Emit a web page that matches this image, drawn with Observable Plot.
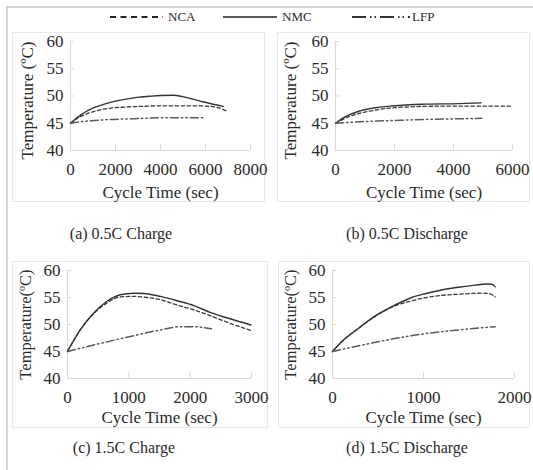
<!DOCTYPE html>
<html>
<head>
<meta charset="utf-8">
<script src="https://cdn.jsdelivr.net/npm/d3@7"></script>
<script src="https://cdn.jsdelivr.net/npm/@observablehq/plot@0.6"></script>
<style>
  html, body { margin: 0; padding: 0; background: #fff; }
  #page { position: relative; width: 533px; height: 470px; overflow: hidden; font-family: "Liberation Serif", "Times New Roman", serif; color: #2a2a2a; }
  .frameL { position: absolute; left: 6px; top: 6px; width: 2px; height: 470px; background: #d4d4d4; }
  .frameT { position: absolute; left: 6px; top: 6px; width: 533px; height: 1.5px; background: #d4d4d4; }
  .box { position: absolute; box-sizing: border-box; border: 1px solid #e8e8e8; }
  .box svg { display: block; }
  .cap { position: absolute; font-size: 16px; white-space: nowrap; transform: translate(-50%, -50%); }
  .leg { position: absolute; font-size: 13px; white-space: nowrap; transform: translateY(-50%); }
  #legendSvg { position: absolute; left: 0; top: 0; }
</style>
</head>
<body>
<div id="page">
  <div class="frameL"></div>
  <div class="frameT"></div>
  <svg id="legendSvg" width="533" height="30"></svg>
  <div id="legendText"></div>
  <div id="pa" class="box"></div>
  <div id="pb" class="box"></div>
  <div id="pc" class="box"></div>
  <div id="pd" class="box"></div>
  <div id="caps"></div>
</div>
<script>
// ---------- data (time in sec, temperature in ºC) ----------
const seriesNames = ["NCA", "NMC", "LFP"];
const yTicks = [40, 45, 50, 55, 60];

// (a) 0.5C Charge
const aTicks = [0, 2000, 4000, 6000, 8000];
const aNCA = [[0,45],[300,45.9],[593,46.5],[1000,47.1],[1481,47.6],[2000,47.85],[2519,48.0],[3200,48.1],[4000,48.2],[4800,48.2],[5481,48.2],[6222,48.1],[6600,47.8],[6900,47.3]];
const aNMC = [[0,45],[444,46.5],[1037,47.85],[1500,48.5],[2000,49.05],[2963,49.75],[3500,49.95],[4000,50.1],[4593,50.15],[5185,49.7],[5926,48.9],[6785,48.1]];
const aLFP = [[0,45],[500,45.3],[1037,45.5],[1800,45.7],[2519,45.8],[3200,45.9],[4000,46.0],[5000,46.0],[5926,46.0]];

// (b) 0.5C Discharge
const bTicks = [0, 2000, 4000, 6000];
const bNCA = [[0,45],[451,46.2],[800,46.8],[1128,47.2],[1500,47.55],[2000,47.85],[2500,48.0],[3046,48.1],[4174,48.15],[5000,48.15],[6000,48.15]];
const bNMC = [[0,45],[338,46.2],[790,47.2],[1354,47.85],[2000,48.2],[2500,48.4],[3046,48.5],[4174,48.6],[4930,48.75]];
const bLFP = [[0,45],[600,45.2],[1354,45.4],[2200,45.55],[3046,45.7],[4000,45.8],[4963,45.9]];

// (c) 1.5C Charge
const cTicks = [0, 1000, 2000, 3000];
const cNCA = [[0,45],[207,49.0],[425,52.0],[644,54.0],[862,55.1],[1080,55.2],[1298,55.0],[1516,54.6],[1789,53.6],[2062,52.7],[2335,51.6],[2608,50.4],[2990,48.9]];
const cNMC = [[0,45],[207,49.0],[425,52.1],[644,54.3],[862,55.5],[1080,55.8],[1244,55.75],[1516,55.2],[1789,54.4],[2062,53.5],[2335,52.2],[2608,51.2],[2990,49.9]];
const cLFP = [[0,45],[425,46.2],[971,47.65],[1516,49.0],[1844,49.6],[2062,49.6],[2200,49.45],[2346,49.2]];

// (d) 1.5C Discharge
const dTicks = [0, 1000, 2000];
const dNCA = [[0,45],[103,46.85],[286,49.3],[469,51.5],[652,53.2],[872,54.4],[1018,54.95],[1201,55.4],[1385,55.6],[1641,55.8],[1714,55.75],[1788,55.1]];
const dNMC = [[0,45],[103,46.85],[286,49.3],[469,51.6],[652,53.3],[872,55.0],[1018,55.7],[1201,56.4],[1385,56.9],[1568,57.3],[1696,57.5],[1751,57.45],[1788,57.0]];
const dLFP = [[0,45],[286,46.05],[652,47.3],[1018,48.3],[1385,49.0],[1788,49.6]];

const captions = ["(a) 0.5C Charge", "(b) 0.5C Discharge", "(c) 1.5C Charge", "(d) 1.5C Discharge"];
const xTitle = "Cycle Time (sec)";

// ---------- styles ----------
const axisGray = "#d9d9d9";
const textColor = "#2a2a2a";
const lineStyle = {
  NCA: {stroke: "#3a3a3a", strokeWidth: 1.3, strokeDasharray: "3.5,2.5"},
  NMC: {stroke: "#333333", strokeWidth: 1.4, strokeDasharray: null},
  LFP: {stroke: "#5a5a5a", strokeWidth: 1.5, strokeDasharray: "8,3,1.5,3,1.5,3"}
};

function panel(id, cfg) {
  const el = document.getElementById(id);
  el.style.left = cfg.left + "px";
  el.style.top = cfg.top + "px";
  el.style.width = cfg.width + "px";
  el.style.height = cfg.height + "px";
  const pw = cfg.width - cfg.ml - cfg.mr;
  const ph = cfg.height - cfg.mt - cfg.mb;
  const xd = [cfg.ticks[0], cfg.ticks[cfg.ticks.length - 1]];
  const lines = [["NCA", cfg.nca], ["NMC", cfg.nmc], ["LFP", cfg.lfp]].map(([name, data]) =>
    Plot.line(data, {x: d => d[0], y: d => d[1], curve: "monotone-x", ...Object.fromEntries(Object.entries(lineStyle[name]).filter(([k, v]) => v != null))})
  );
  const chart = Plot.plot({
    width: cfg.width - 2,
    height: cfg.height - 2,
    marginLeft: cfg.ml - 1,
    marginRight: cfg.mr - 1,
    marginTop: cfg.mt - 1,
    marginBottom: cfg.mb - 1,
    style: {fontFamily: "'Liberation Serif', 'Times New Roman', serif", fontSize: "17px", color: textColor, background: "transparent", overflow: "visible"},
    x: {domain: xd, ticks: cfg.ticks, tickSize: 0, tickPadding: 12, tickFormat: d => String(d), label: null},
    y: {domain: [40, 60], ticks: yTicks, tickSize: 0, tickPadding: 7, label: null},
    marks: [
      Plot.ruleX([xd[0]], {stroke: axisGray, strokeWidth: 1}),
      Plot.ruleY([40], {stroke: axisGray, strokeWidth: 1}),
      Plot.tickX(cfg.ticks.slice(1), {x: d => d, insetTop: ph - 6, stroke: axisGray}),
      Plot.tickY(yTicks.slice(1), {y: d => d, insetRight: pw - 4, stroke: axisGray}),
      ...lines,
      Plot.text([xTitle], {frameAnchor: "bottom", textAnchor: "middle", lineAnchor: "middle", dy: cfg.xtOff, text: d => d, fontSize: 17, fill: textColor}),
      Plot.text([cfg.yTitle], {frameAnchor: "left", textAnchor: "middle", lineAnchor: "middle", dx: -cfg.ytOff, dy: cfg.ytDy, rotate: -90, text: d => d, fontSize: cfg.ytSize, fill: textColor})
    ]
  });
  el.appendChild(chart);
}

panel("pa", {left: 12, top: 32, width: 253, height: 170, ml: 58, mr: 15, mt: 9, mb: 52, ticks: aTicks, nca: aNCA, nmc: aNMC, lfp: aLFP, yTitle: "Temperature (ºC)", ytOff: 43, ytDy: 4.5, ytSize: 17, xtOff: 42});
panel("pb", {left: 277, top: 32, width: 253, height: 170, ml: 58, mr: 18, mt: 9, mb: 52, ticks: bTicks, nca: bNCA, nmc: bNMC, lfp: bLFP, yTitle: "Temperature (ºC)", ytOff: 45, ytDy: 4.5, ytSize: 17, xtOff: 42});
panel("pc", {left: 12, top: 261, width: 256, height: 167, ml: 55, mr: 17, mt: 9, mb: 50, ticks: cTicks, nca: cNCA, nmc: cNMC, lfp: cLFP, yTitle: "Temperature(ºC)", ytOff: 42, ytDy: 0, ytSize: 16.5, xtOff: 39});
panel("pd", {left: 278, top: 261, width: 252, height: 167, ml: 54, mr: 16, mt: 9, mb: 50, ticks: dTicks, nca: dNCA, nmc: dNMC, lfp: dLFP, yTitle: "Temperature(ºC)", ytOff: 42, ytDy: 0, ytSize: 16.5, xtOff: 39});

// captions
const capPos = [[121, 234], [407, 234], [124, 448], [407, 448]];
const capsEl = document.getElementById("caps");
captions.forEach((t, i) => {
  const d = document.createElement("div");
  d.className = "cap";
  d.textContent = t;
  d.style.left = capPos[i][0] + "px";
  d.style.top = capPos[i][1] + "px";
  capsEl.appendChild(d);
});

// legend
const legLine = {NCA: [110, 163, "6,4.5"], NMC: [223, 277, null], LFP: [352, 410, "14,4,1.5,3,1.5,4"]};
const legText = {NCA: 168, NMC: 282, LFP: 412};
const lsvg = d3.select("#legendSvg");
const legTextEl = document.getElementById("legendText");
seriesNames.forEach(n => {
  const [x1, x2, da] = legLine[n];
  const l = lsvg.append("line").attr("x1", x1).attr("x2", x2).attr("y1", 17).attr("y2", 17)
    .attr("stroke", n === "LFP" ? "#333" : "#222").attr("stroke-width", n === "NMC" ? 1.5 : 2);
  if (da) l.attr("stroke-dasharray", da);
  const t = document.createElement("div");
  t.className = "leg";
  t.textContent = n;
  t.style.left = legText[n] + "px";
  t.style.top = "17px";
  legTextEl.appendChild(t);
});
</script>
</body>
</html>
